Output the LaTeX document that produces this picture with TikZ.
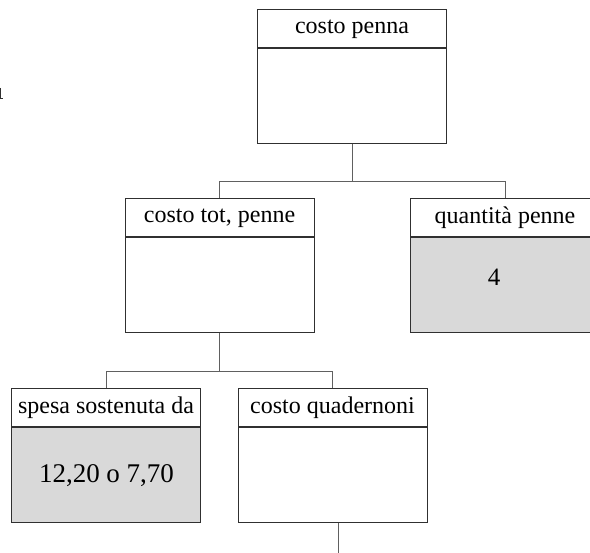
\documentclass[tikz,border=0pt]{standalone}
\usepackage{fontspec}
\setmainfont{Liberation Serif}
\usetikzlibrary{positioning,calc}
\definecolor{boxline}{HTML}{303030}
\definecolor{connline}{HTML}{606060}
\definecolor{valfill}{HTML}{D9D9D9}
\tikzset{
  hdr/.style={draw=boxline, line width=1pt, fill=white, minimum width=189pt, minimum height=38pt, inner sep=0pt, font=\fontsize{24}{28}\selectfont},
  bodybox/.style={draw=boxline, line width=1pt, fill=white, minimum width=189pt, minimum height=95pt, inner sep=0pt},
  valbox/.style={bodybox, fill=valfill},
  conn/.style={draw=connline, line width=1pt},
  valtext/.style={font=\fontsize{25}{29}\selectfont, inner sep=0pt}
}
\begin{document}
\begin{tikzpicture}[x=1pt,y=-1pt]
\useasboundingbox (0,0) rectangle (590,553);
% costo penna
\node[hdr] (pH) at (352,29) {costo penna};
\node[bodybox, below=0pt of pH] (pB) {};
% costo tot, penne
\node[hdr] (tH) at (219.5,218) {costo tot, penne};
\node[bodybox, below=0pt of tH] (tB) {};
% quantita penne
\node[hdr] (qH) at (505,218) {quantità penne};
\node[valbox, below=0pt of qH] (qB) {};
\node[valtext] (qV) at (494,277) {4};
% spesa sostenuta da
\node[hdr] (sH) at (106,408) {spesa sostenuta da};
\node[valbox, below=0pt of sH] (sB) {};
\node[valtext, font=\fontsize{27}{30}\selectfont] (sV) at (106.5,476) {12,20 o 7,70};
% costo quadernoni
\node[hdr] (cH) at (332.5,408) {costo quadernoni};
\node[bodybox, below=0pt of cH] (cB) {};
% connectors
\draw[conn] (pB.south) -- ++(0,37) -| (tH.north);
\draw[conn] (pB.south) -- ++(0,37) -| (qH.north);
\draw[conn] (tB.south) -- ++(0,38) -| (sH.north);
\draw[conn] (tB.south) -- ++(0,38) -| (cH.north);
\coordinate (cEnd) at (338,553);
\draw[conn] ([xshift=5.5pt]cB.south) -- (cEnd);
% clipped fragment at left edge
\coordinate (fA) at (0.8,88);
\coordinate (fB) at (0.8,99);
\coordinate (fC) at (3,99);
\draw[draw=boxline, line width=1pt] (fA) -- (fB) -- (fC);
\end{tikzpicture}
\end{document}
